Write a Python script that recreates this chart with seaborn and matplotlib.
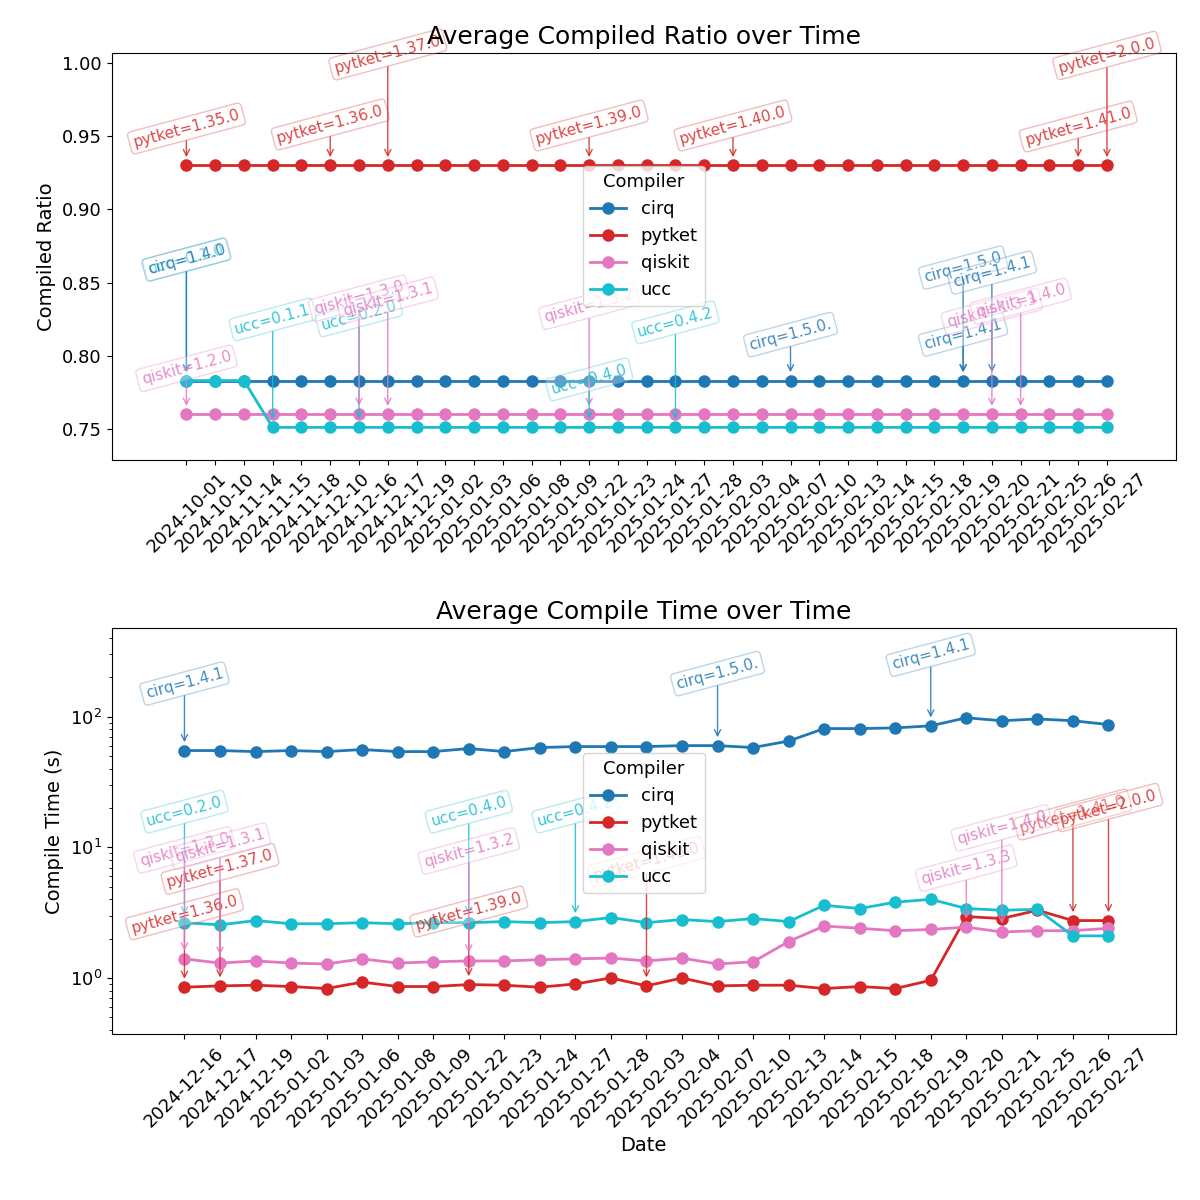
import matplotlib
matplotlib.use("Agg")
import matplotlib.pyplot as plt
import seaborn as sns
import pandas as pd

dates_top = ["2024-10-01","2024-10-10","2024-11-14","2024-11-15","2024-11-18","2024-12-10",
             "2024-12-16","2024-12-17","2024-12-19","2025-01-02","2025-01-03","2025-01-06",
             "2025-01-08","2025-01-09","2025-01-22","2025-01-23","2025-01-24","2025-01-27",
             "2025-01-28","2025-02-03","2025-02-04","2025-02-07","2025-02-10","2025-02-13",
             "2025-02-14","2025-02-15","2025-02-18","2025-02-19","2025-02-20","2025-02-21",
             "2025-02-25","2025-02-26","2025-02-27"]
ratio_cirq = [0.783]*33
ratio_pytket = [0.93]*33
ratio_qiskit = [0.76]*33
ratio_ucc = [0.783]*3 + [0.751]*30

dates_bot = ["2024-12-16","2024-12-17","2024-12-19","2025-01-02","2025-01-03","2025-01-06",
             "2025-01-08","2025-01-09","2025-01-22","2025-01-23","2025-01-24","2025-01-27",
             "2025-01-28","2025-02-03","2025-02-04","2025-02-07","2025-02-10","2025-02-13",
             "2025-02-14","2025-02-15","2025-02-18","2025-02-19","2025-02-20","2025-02-21",
             "2025-02-25","2025-02-26","2025-02-27"]
time_cirq = [55,55,54,55,54,56,54,54,57,54,58,59,59,59,60,60,58,65,81,81,82,85,98,93,96,93,87]
time_pytket = [0.85,0.87,0.88,0.86,0.83,0.93,0.86,0.86,0.89,0.88,0.85,0.9,1.0,0.87,1.0,0.87,
               0.88,0.88,0.83,0.86,0.83,0.96,2.95,2.85,3.3,2.75,2.75]
time_qiskit = [1.4,1.3,1.35,1.3,1.28,1.4,1.3,1.33,1.35,1.35,1.38,1.4,1.42,1.35,1.42,1.28,
               1.33,1.9,2.5,2.4,2.3,2.35,2.45,2.25,2.3,2.3,2.4]
time_ucc = [2.65,2.55,2.75,2.6,2.6,2.65,2.6,2.65,2.65,2.7,2.65,2.7,2.9,2.65,2.8,2.7,2.85,2.7,
            3.6,3.4,3.8,4.0,3.4,3.3,3.35,2.1,2.1]

compilers = ["cirq", "pytket", "qiskit", "ucc"]
colors = {"cirq": "#1f77b4", "pytket": "#d62728", "qiskit": "#e377c2", "ucc": "#17becf"}

# (compiler, date, label, vertical text offset in pixels)
ann_top = [
    ("pytket","2024-10-01","pytket=1.35.0",37), ("pytket","2024-12-10","pytket=1.36.0",41),
    ("pytket","2024-12-17","pytket=1.37.0",111), ("pytket","2025-01-22","pytket=1.39.0",40),
    ("pytket","2025-02-03","pytket=1.40.0",40), ("pytket","2025-02-26","pytket=1.41.0",39),
    ("pytket","2025-02-27","pytket=2.0.0",110),
    ("ucc","2024-10-01","ucc=0.1.0",121), ("cirq","2024-10-01","cirq=1.4.0",121),
    ("qiskit","2024-10-01","qiskit=1.2.0",46), ("ucc","2024-11-15","ucc=0.1.1",108),
    ("ucc","2024-12-16","ucc=0.2.0",112), ("qiskit","2024-12-16","qiskit=1.3.0",116),
    ("qiskit","2024-12-17","qiskit=1.3.1",114), ("qiskit","2025-01-22","qiskit=1.3.2",108),
    ("ucc","2025-01-22","ucc=0.4.0",48), ("ucc","2025-01-27","ucc=0.4.2",105),
    ("cirq","2025-02-07","cirq=1.5.0.",46), ("cirq","2025-02-19","cirq=1.5.0",113),
    ("cirq","2025-02-19","cirq=1.4.1",46), ("cirq","2025-02-20","cirq=1.4.1",108),
    ("qiskit","2025-02-20","qiskit=1.3.3",103), ("qiskit","2025-02-21","qiskit=1.4.0",113),
]
ann_bot = [
    ("cirq","2024-12-16","cirq=1.4.1",67), ("cirq","2025-02-07","cirq=1.5.0.",72),
    ("cirq","2025-02-19","cirq=1.4.1",71),
    ("ucc","2024-12-16","ucc=0.2.0",111), ("ucc","2025-01-22","ucc=0.4.0",111),
    ("ucc","2025-01-27","ucc=0.4.2",110),
    ("pytket","2024-12-16","pytket=1.36.0",73), ("pytket","2024-12-17","pytket=1.37.0",117),
    ("pytket","2025-01-22","pytket=1.39.0",73), ("pytket","2025-02-03","pytket=1.40.0",124),
    ("pytket","2025-02-26","pytket=1.41.0",106), ("pytket","2025-02-27","pytket=2.0.0",113),
    ("qiskit","2024-12-16","qiskit=1.3.0",109), ("qiskit","2024-12-17","qiskit=1.3.1",117),
    ("qiskit","2025-01-22","qiskit=1.3.2",110), ("qiskit","2025-02-20","qiskit=1.3.3",59),
    ("qiskit","2025-02-21","qiskit=1.4.0",104),
]

def long_df(dates, series):
    rows = []
    for c, vals in zip(compilers, series):
        for d, v in zip(dates, vals):
            rows.append({"Date": d, "Compiler": c, "value": v})
    return pd.DataFrame(rows)

df_top = long_df(dates_top, [ratio_cirq, ratio_pytket, ratio_qiskit, ratio_ucc])
df_bot = long_df(dates_bot, [time_cirq, time_pytket, time_qiskit, time_ucc])

fig, (ax1, ax2) = plt.subplots(2, 1, figsize=(12, 12), dpi=100)
fig.subplots_adjust(left=0.093, right=0.98, top=0.956, bottom=0.138, hspace=0.413)

def draw(ax, df, dates, anns, title, ylabel, xlabel):
    sns.lineplot(data=df, x="Date", y="value", hue="Compiler", palette=colors,
                 marker="o", markersize=9, linewidth=2, markeredgewidth=0, ax=ax,
                 sort=False)
    lookup = {(r.Compiler, r.Date): r.value for r in df.itertuples()}
    for comp, d, lab, dy in anns:
        x = dates.index(d)
        y = lookup[(comp, d)]
        col = colors[comp]
        ax.annotate(lab, xy=(x, y), xytext=(0, dy), textcoords="offset pixels",
                    ha="center", va="center", fontsize=11, color=col, alpha=0.85,
                    rotation=15,
                    bbox=dict(boxstyle="round,pad=0.25", fc="white", ec=col, alpha=0.3),
                    arrowprops=dict(arrowstyle="->", color=col, lw=1, alpha=0.85,
                                    shrinkA=0, shrinkB=6))
    ax.set_title(title, fontsize=18)
    ax.set_ylabel(ylabel, fontsize=14)
    ax.set_xlabel(xlabel, fontsize=14)
    ax.set_xticks(range(len(dates)))
    ax.set_xticklabels(dates, rotation=45, fontsize=13)
    ax.tick_params(axis="y", labelsize=13)

draw(ax1, df_top, dates_top, ann_top, "Average Compiled Ratio over Time", "Compiled Ratio", "")
ax1.set_ylim(0.729, 1.007)
ax1.set_xlim(-2.6, 32 + 2.4)
ax1.legend(title="Compiler", loc="center", bbox_to_anchor=(0.5, 0.55), fontsize=13, title_fontsize=13)

ax2.set_yscale("log")
draw(ax2, df_bot, dates_bot, ann_bot, "Average Compile Time over Time", "Compile Time (s)", "Date")
ax2.set_ylim(0.37, 480)
ax2.set_xlim(-2.05, 26 + 1.9)
ax2.legend(title="Compiler", loc="center", bbox_to_anchor=(0.5, 0.52), fontsize=13, title_fontsize=13)

fig.savefig("out.png", dpi=100)
